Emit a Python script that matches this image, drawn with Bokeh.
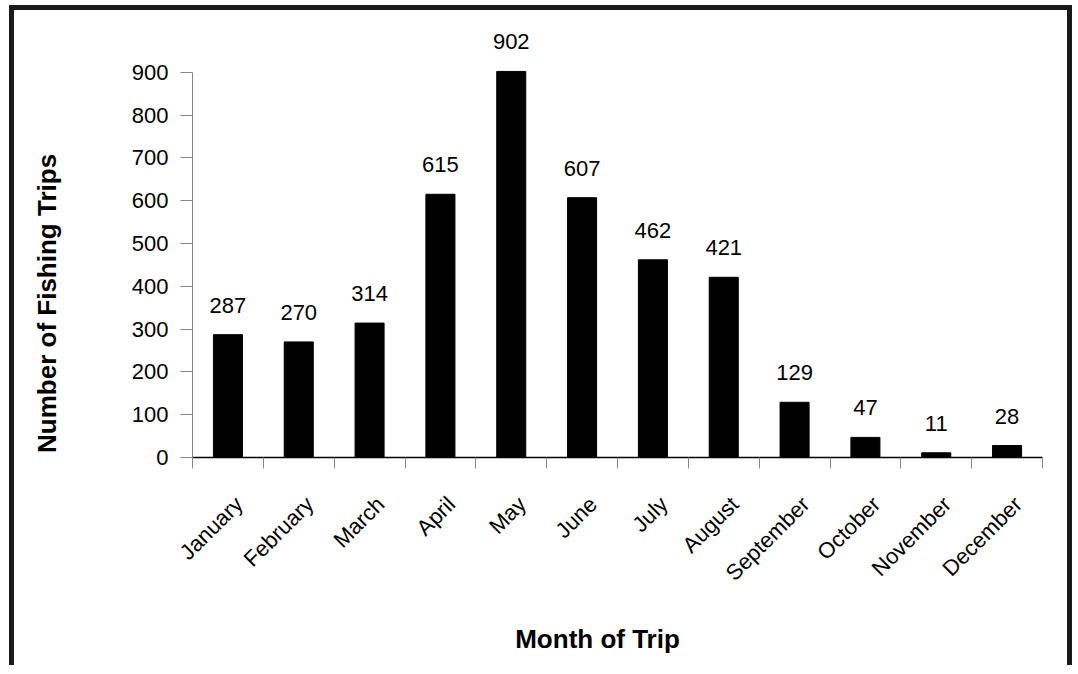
import numpy as np
from bokeh.plotting import figure
from bokeh.models import Range1d, LinearAxis, FixedTicker, ColumnDataSource, Label
from bokeh.embed import file_html
from bokeh.resources import INLINE
from bokeh.core.properties import value

# ---- data ----
months = ["January", "February", "March", "April", "May", "June", "July",
          "August", "September", "October", "November", "December"]
trips = [287, 270, 314, 615, 902, 607, 462, 421, 129, 47, 11, 28]
y_ticks = [0, 100, 200, 300, 400, 500, 600, 700, 800, 900]
x_title = "Month of Trip"
y_title = "Number of Fishing Trips"

FONT = "Liberation Sans"
GREY = "#868686"

n = len(months)
src = ColumnDataSource(dict(pos=[i + 0.5 for i in range(n)], month=months,
                            trips=trips, label=[str(v) for v in trips]))

p = figure(width=1063, height=660,
           x_range=Range1d(0, n), y_range=Range1d(0, 1021),
           x_axis_location=None, y_axis_location="left",
           output_backend="svg", toolbar_location=None,
           min_border_left=178, min_border_right=35,
           min_border_top=10, min_border_bottom=213)
p.styles = {"margin-left": "9px", "margin-top": "5px",
            "border-top": "5px solid #1a1a1a",
            "border-left": "5px solid #1a1a1a",
            "border-right": "5px solid #1a1a1a"}
p.xgrid.visible = False
p.ygrid.visible = False
p.outline_line_color = None
p.background_fill_color = "white"
p.border_fill_color = "white"

p.extra_x_ranges = {"lab": Range1d(-0.655, n - 0.655)}

p.vbar(x="pos", top="trips", bottom=0, width=0.41, color="black", source=src)
p.text(x="pos", y="trips", text="label", source=src,
       text_align="center", text_baseline="bottom", y_offset=-22,
       text_font=value(FONT), text_font_size="22px", text_color="black")

# y axis
ya = p.yaxis[0]
ya.ticker = FixedTicker(ticks=y_ticks)
ya.bounds = (0, 900)
ya.axis_line_color = GREY
ya.major_tick_line_color = GREY
ya.major_tick_out = 12
ya.major_tick_in = 0
ya.minor_tick_line_color = None
ya.major_label_text_font = FONT
ya.major_label_text_font_size = "22px"
ya.major_label_text_color = "black"
ya.major_label_standoff = 12

# x tick axis (category boundaries)
tax = LinearAxis(ticker=FixedTicker(ticks=list(range(n + 1))),
                 major_label_overrides={i: "" for i in range(n + 1)})
tax.axis_line_color = "black"
tax.axis_line_width = 1.5
tax.major_tick_line_color = GREY
tax.major_tick_out = 11
tax.major_tick_in = 0
tax.minor_tick_line_color = None
tax.major_label_standoff = 0
p.add_layout(tax, "below")

# x label axis
lax = LinearAxis(x_range_name="lab",
                 ticker=FixedTicker(ticks=list(range(n))),
                 major_label_overrides={i: m for i, m in enumerate(months)})
lax.axis_line_color = None
lax.major_tick_line_color = None
lax.minor_tick_line_color = None
lax.major_label_orientation = np.pi / 4
lax.major_label_text_font = FONT
lax.major_label_text_font_size = "22px"
lax.major_label_text_color = "black"
lax.major_label_standoff = 26
p.add_layout(lax, "below")

# axis titles (placed in side panels so they are not clipped to the frame)
p.add_layout(Label(x=-2.061, y=360, text=y_title, angle=np.pi / 2,
                   text_align="center", text_baseline="middle",
                   text_font=FONT, text_font_style="bold",
                   text_font_size="26px", text_color="black"), "left")
p.add_layout(Label(x=5.718, y=-423, text=x_title,
                   text_align="center", text_baseline="middle",
                   text_font=FONT, text_font_style="bold",
                   text_font_size="26px", text_color="black"), "below")

open("out.html", "w").write(file_html(p, INLINE))
